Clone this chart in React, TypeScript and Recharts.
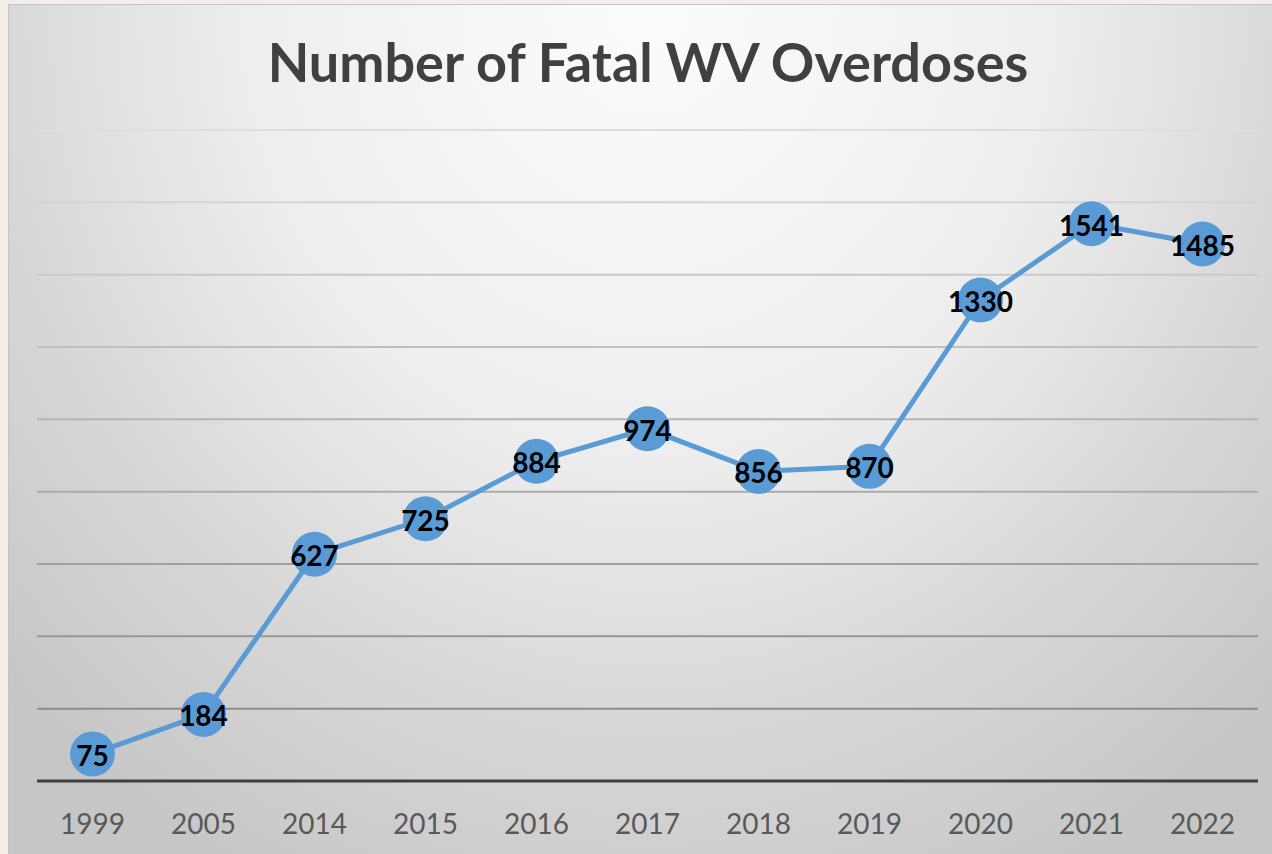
import { LineChart, Line, XAxis, YAxis, CartesianGrid, LabelList } from 'recharts'

// Fatal overdoses in West Virginia by year
const years = ['1999', '2005', '2014', '2015', '2016', '2017', '2018', '2019', '2020', '2021', '2022']
const deaths = [75, 184, 627, 725, 884, 974, 856, 870, 1330, 1541, 1485]
const yTicks = [0, 200, 400, 600, 800, 1000, 1200, 1400, 1600, 1800]

const data = years.map((year, i) => ({ year, deaths: deaths[i] }))

const FONT = 'Lato, "Open Sans", sans-serif'

// gridlines fade from light at the top to darker near the axis
function gridLine(props: any) {
  const t = Math.max(0, Math.min(1, (props.y1 - 130) / (707 - 130)))
  const c = Math.round(222 - t * (222 - 140))
  return (
    <line
      key={props.key ?? props.index}
      x1={props.x1}
      x2={props.x2}
      y1={props.y1}
      y2={props.y2}
      stroke={`rgb(${c},${c},${c})`}
      strokeWidth={2}
    />
  )
}

function YearTick({ x, y, payload }: any) {
  return (
    <text x={x} y={y + 42} textAnchor="middle" dominantBaseline="central" fill="#595959" fontSize={28} fontFamily={FONT}>
      {payload.value}
    </text>
  )
}

function Marker({ cx, cy, index }: any) {
  return <circle key={index} cx={cx} cy={cy} r={22.5} fill="#5b9bd5" />
}

function ValueLabel({ x, y, value }: any) {
  return (
    <text x={x} y={y + 1} textAnchor="middle" dominantBaseline="central" fill="#000" fontSize={28} fontWeight={700} fontFamily={FONT}>
      {value}
    </text>
  )
}

export default function App() {
  return (
    <div style={{ position: 'fixed', left: 0, top: 0, width: 1272, height: 854, background: '#f3efe7', overflow: 'hidden' }}>
      <div
        style={{
          position: 'absolute',
          left: 8,
          top: 4,
          width: 1280,
          height: 860,
          border: '1px solid #c4c4c4',
          boxSizing: 'border-box',
          background: 'radial-gradient(ellipse 70% 115% at 50% 0%, #fcfcfc 0%, #eeeeee 45%, #d6d6d6 75%, #c6c6c6 100%)',
        }}
      />
      <div
        style={{
          position: 'absolute',
          left: 0,
          top: 26,
          width: 1296,
          textAlign: 'center',
          fontFamily: FONT,
          fontWeight: 700,
          fontSize: 54,
          color: '#404040',
          lineHeight: '72px',
        }}
      >
        Number of Fatal WV Overdoses
      </div>
      <div style={{ position: 'absolute', left: 0, top: 0 }}>
        <LineChart width={1272} height={854} data={data} margin={{ top: 130, right: 14, bottom: 0, left: 37 }}>
          <CartesianGrid vertical={false} horizontal={gridLine} />
          <XAxis
            dataKey="year"
            height={73}
            padding={{ left: 55.5, right: 55.5 }}
            tickLine={false}
            tickSize={0}
            tickMargin={0}
            axisLine={{ stroke: '#404040', strokeWidth: 3 }}
            tick={<YearTick />}
            interval={0}
          />
          <YAxis hide domain={[0, 1800]} ticks={yTicks} width={0} />
          <Line
            type="linear"
            dataKey="deaths"
            stroke="#5b9bd5"
            strokeWidth={5}
            dot={<Marker />}
            activeDot={false}
            isAnimationActive={false}
          >
            <LabelList dataKey="deaths" content={<ValueLabel />} />
          </Line>
        </LineChart>
      </div>
    </div>
  )
}
